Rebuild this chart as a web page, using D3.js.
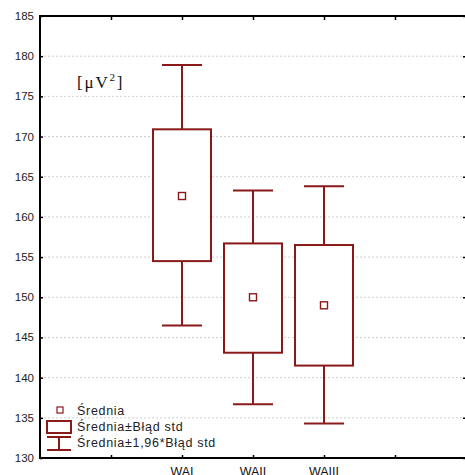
<!DOCTYPE html>
<html>
<head>
<meta charset="utf-8">
<script src="https://cdn.jsdelivr.net/npm/d3@7"></script>
<style>
  body { margin: 0; background: #fff; }
  svg { display: block; }
</style>
</head>
<body>
<svg id="chart"></svg>
<script>
// values
const categories = ['WAI', 'WAII', 'WAIII'];
const slots = [2, 3, 4];                     // position of each group on the x frame
const means = [162.6, 150.0, 149.0];
const seLow = [154.5, 143.1, 141.5];
const seHigh = [170.9, 156.7, 156.5];
const ciLow = [146.5, 136.7, 134.3];
const ciHigh = [178.9, 163.3, 163.8];
const yTicks = [130, 135, 140, 145, 150, 155, 160, 165, 170, 175, 180, 185];
const legendLabels = ['Średnia', 'Średnia±Błąd std', 'Średnia±1,96*Błąd std'];

const width = 465, height = 475;
const margin = { top: 16, left: 40, bottom: 17, right: -1 };
const color = '#8a1a1a';

const svg = d3.select('#chart')
    .attr('width', width)
    .attr('height', height);

const x = d3.scaleLinear()
    .domain([0, 6])
    .range([margin.left, width - margin.right]);

const y = d3.scaleLinear()
    .domain([130, 185])
    .range([height - margin.bottom, margin.top]);

const data = categories.map((c, i) => ({
    cat: c, pos: slots[i], mean: means[i],
    lo: seLow[i], hi: seHigh[i], cLo: ciLow[i], cHi: ciHigh[i]
}));

// dotted grid
svg.append('g')
    .selectAll('line')
    .data(yTicks.filter(t => t > 130 && t < 185))
    .join('line')
    .attr('x1', margin.left + 4)
    .attr('x2', width - 2)
    .attr('y1', d => y(d))
    .attr('y2', d => y(d))
    .attr('stroke', '#cfcfcf')
    .attr('stroke-width', 1)
    .attr('stroke-dasharray', '2,2');

// y axis (left), ticks pointing inward
const yAxis = svg.append('g')
    .attr('transform', `translate(${margin.left},0)`)
    .call(d3.axisRight(y).tickValues(yTicks).tickSize(3).tickFormat(''));
yAxis.select('.domain').remove();
yAxis.selectAll('line').attr('stroke', '#000').attr('stroke-width', 1.5);

svg.append('g')
    .selectAll('text')
    .data(yTicks)
    .join('text')
    .attr('x', 34)
    .attr('y', d => y(d) + 4)
    .attr('text-anchor', 'end')
    .attr('font-family', 'Liberation Sans, Arial, sans-serif')
    .attr('font-size', 11.5)
    .attr('fill', '#222')
    .text(d => d);

// right side ticks
svg.append('g')
    .attr('transform', `translate(${width + 1},0)`)
    .call(d3.axisLeft(y).tickValues(yTicks).tickSize(3).tickFormat(''))
    .call(g => g.select('.domain').remove())
    .selectAll('line').attr('stroke', '#000').attr('stroke-width', 1.5);

// x axis bottom and top, ticks inward
const xTickVals = [1, 2, 3, 4, 5];
const bottomAxis = svg.append('g')
    .attr('transform', `translate(0,${y(130)})`)
    .call(d3.axisTop(x).tickValues(xTickVals).tickSize(3).tickFormat(''));
bottomAxis.select('.domain').remove();
bottomAxis.selectAll('line').attr('stroke', '#000').attr('stroke-width', 1.5);

const topAxis = svg.append('g')
    .attr('transform', `translate(0,${y(185)})`)
    .call(d3.axisBottom(x).tickValues(xTickVals).tickSize(4).tickFormat(''));
topAxis.select('.domain').remove();
topAxis.selectAll('line').attr('stroke', '#000').attr('stroke-width', 1.5);

// frame lines
svg.append('line')
    .attr('x1', margin.left).attr('x2', margin.left)
    .attr('y1', y(185)).attr('y2', y(130))
    .attr('stroke', '#000').attr('stroke-width', 2);
svg.append('line')
    .attr('x1', margin.left - 1).attr('x2', width)
    .attr('y1', y(185)).attr('y2', y(185))
    .attr('stroke', '#000').attr('stroke-width', 2);
svg.append('line')
    .attr('x1', margin.left - 1).attr('x2', width)
    .attr('y1', y(130)).attr('y2', y(130))
    .attr('stroke', '#000').attr('stroke-width', 2);

// category labels (partly cut by the bottom edge, as in the source)
svg.append('g')
    .selectAll('text')
    .data(data)
    .join('text')
    .attr('x', d => x(d.pos))
    .attr('y', 476)
    .attr('text-anchor', 'middle')
    .attr('font-family', 'Liberation Sans, Arial, sans-serif')
    .attr('font-size', 12.5)
    .attr('fill', '#111')
    .text(d => d.cat);

// boxes
const boxW = 58, capW = 40;
const groups = svg.append('g')
    .selectAll('g')
    .data(data)
    .join('g');

groups.append('line')
    .attr('x1', d => x(d.pos)).attr('x2', d => x(d.pos))
    .attr('y1', d => y(d.cHi)).attr('y2', d => y(d.hi))
    .attr('stroke', color).attr('stroke-width', 2);
groups.append('line')
    .attr('x1', d => x(d.pos)).attr('x2', d => x(d.pos))
    .attr('y1', d => y(d.lo)).attr('y2', d => y(d.cLo))
    .attr('stroke', color).attr('stroke-width', 2);
groups.append('line')
    .attr('x1', d => x(d.pos) - capW / 2).attr('x2', d => x(d.pos) + capW / 2)
    .attr('y1', d => y(d.cHi)).attr('y2', d => y(d.cHi))
    .attr('stroke', color).attr('stroke-width', 2);
groups.append('line')
    .attr('x1', d => x(d.pos) - capW / 2).attr('x2', d => x(d.pos) + capW / 2)
    .attr('y1', d => y(d.cLo)).attr('y2', d => y(d.cLo))
    .attr('stroke', color).attr('stroke-width', 2);
groups.append('rect')
    .attr('x', d => x(d.pos) - boxW / 2)
    .attr('width', boxW)
    .attr('y', d => y(d.hi))
    .attr('height', d => y(d.lo) - y(d.hi))
    .attr('fill', '#fff')
    .attr('stroke', color).attr('stroke-width', 2);
groups.append('rect')
    .attr('x', d => x(d.pos) - 3.5)
    .attr('y', d => y(d.mean) - 3.5)
    .attr('width', 7).attr('height', 7)
    .attr('fill', '#fff')
    .attr('stroke', color).attr('stroke-width', 1.4);

// unit label
const unit = svg.append('text')
    .attr('x', 77)
    .attr('y', 88)
    .attr('font-family', 'Liberation Serif, Times New Roman, serif')
    .attr('font-size', 17)
    .attr('letter-spacing', 1.8)
    .attr('fill', '#111');
unit.append('tspan').text('[μV');
unit.append('tspan').attr('dy', -7).attr('font-size', 11).text('2');
unit.append('tspan').attr('dy', 7).text(']');

// legend
const legend = svg.append('g');
legend.append('rect')
    .attr('x', 57).attr('y', 407).attr('width', 6).attr('height', 6)
    .attr('fill', '#fff').attr('stroke', color).attr('stroke-width', 1.2);
legend.append('rect')
    .attr('x', 47).attr('y', 421).attr('width', 24).attr('height', 12)
    .attr('fill', '#fff').attr('stroke', color).attr('stroke-width', 2);
legend.append('line')
    .attr('x1', 47).attr('x2', 71).attr('y1', 437).attr('y2', 437)
    .attr('stroke', color).attr('stroke-width', 2);
legend.append('line')
    .attr('x1', 47).attr('x2', 71).attr('y1', 450).attr('y2', 450)
    .attr('stroke', color).attr('stroke-width', 2);
legend.append('line')
    .attr('x1', 59).attr('x2', 59).attr('y1', 437).attr('y2', 450)
    .attr('stroke', color).attr('stroke-width', 2);
legend.selectAll('text.lab')
    .data(legendLabels)
    .join('text')
    .attr('class', 'lab')
    .attr('x', 77)
    .attr('y', (d, i) => 415 + i * 16)
    .attr('font-family', 'Liberation Sans, Arial, sans-serif')
    .attr('font-size', 12.5)
    .attr('letter-spacing', 0.7)
    .attr('fill', '#222')
    .text(d => d);
</script>
</body>
</html>
